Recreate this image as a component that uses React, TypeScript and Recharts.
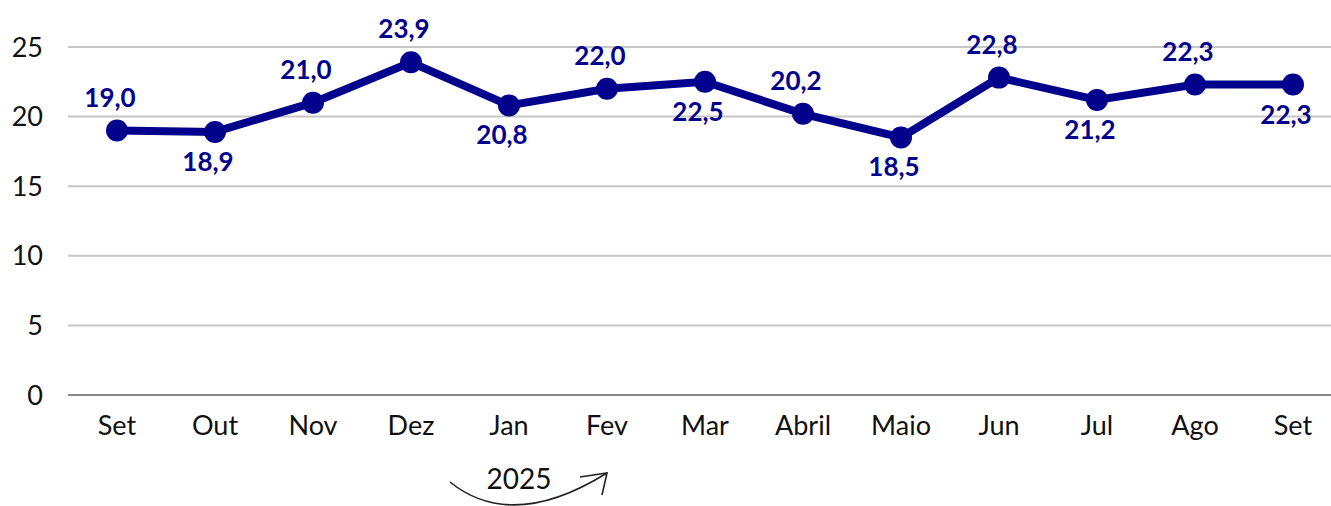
import { LineChart, Line, XAxis, YAxis, CartesianGrid, LabelList } from "recharts";

const months = ["Set", "Out", "Nov", "Dez", "Jan", "Fev", "Mar", "Abril", "Maio", "Jun", "Jul", "Ago", "Set"];
const values = [19.0, 18.9, 21.0, 23.9, 20.8, 22.0, 22.5, 20.2, 18.5, 22.8, 21.2, 22.3, 22.3];
// which labels sit above the point
const labelAbove = [true, false, true, true, false, true, false, true, false, true, false, true, false];
const yTicks = [0, 5, 10, 15, 20, 25];

const data = months.map((m, i) => ({ key: i, month: m, value: values[i] }));

const NAVY = "#02028C";
const FONT = "Lato, 'Open Sans', sans-serif";

function PointLabel(props: any) {
  const { x, y, index, value } = props;
  const above = labelAbove[index];
  return (
    <text
      x={x - 7}
      y={above ? y - 34 : y + 29}
      textAnchor="middle"
      dominantBaseline="central"
      fill={NAVY}
      fontSize={26}
      fontWeight={700}
      fontFamily={FONT}
    >
      {value.toFixed(1).replace(".", ",")}
    </text>
  );
}

export default function App() {
  return (
    <div style={{ position: "absolute", left: 0, top: 0, width: 1331, height: 506, background: "#fff" }}>
      <LineChart width={1331} height={506} data={data} margin={{ top: 47, right: 0, bottom: 0, left: 0 }}>
        <CartesianGrid vertical={false} stroke="#c6c6c6" strokeWidth={2} />
        <XAxis
          dataKey="key"
          tickFormatter={(i: number) => months[i]}
          padding={{ left: 49, right: 38 }}
          tickLine={false}
          axisLine={{ stroke: "#8a8a8a", strokeWidth: 2 }}
          tickMargin={15}
          height={111}
          tick={{ fontSize: 27, fill: "#111", fontFamily: FONT }}
          interval={0}
        />
        <YAxis
          domain={[0, 25]}
          ticks={yTicks}
          width={68}
          tickLine={false}
          axisLine={false}
          tickMargin={19}
          tick={{ fontSize: 27, fill: "#111", fontFamily: FONT }}
        />
        <Line
          type="linear"
          dataKey="value"
          stroke={NAVY}
          strokeWidth={8}
          dot={{ r: 11, fill: NAVY, stroke: NAVY, strokeWidth: 0 }}
          isAnimationActive={false}
        >
          <LabelList dataKey="value" content={<PointLabel />} />
        </Line>
      </LineChart>
      <svg width={1331} height={506} style={{ position: "absolute", left: 0, top: 0, pointerEvents: "none" }}>
        <text x={519} y={478} textAnchor="middle" dominantBaseline="central" fontSize={28} fontFamily={FONT} fill="#111">
          2025
        </text>
        <path d="M 450 482 Q 512 532 607 473" fill="none" stroke="#222" strokeWidth={1.6} />
        <path d="M 580 477 L 607 473 L 602 495" fill="none" stroke="#222" strokeWidth={1.6} />
      </svg>
    </div>
  );
}
